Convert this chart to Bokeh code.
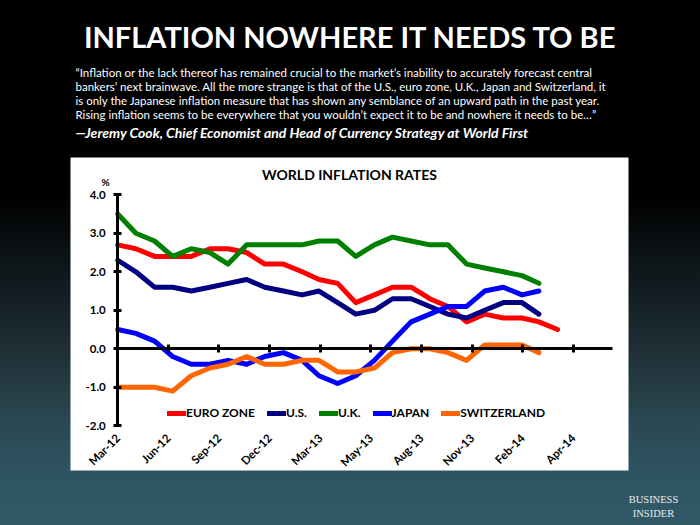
import numpy as np
import pandas as pd
from bokeh.plotting import figure
from bokeh.models import (LinearAxis, FixedTicker, Label, Legend, LegendItem,
                          Range1d, PrintfTickFormatter, BoxAnnotation)
from bokeh.embed import file_html
from bokeh.resources import INLINE

# ---------------- data ----------------
START = "2012-03-31"          # first observation (month end)
EURO_ZONE = [2.7, 2.6, 2.4, 2.4, 2.4, 2.6, 2.6, 2.5, 2.2, 2.2, 2.0, 1.8, 1.7,
             1.2, 1.4, 1.6, 1.6, 1.3, 1.1, 0.7, 0.9, 0.8, 0.8, 0.7, 0.5]
US = [2.3, 2.0, 1.6, 1.6, 1.5, 1.6, 1.7, 1.8, 1.6, 1.5, 1.4, 1.5, 1.2,
      0.9, 1.0, 1.3, 1.3, 1.1, 0.9, 0.8, 1.0, 1.2, 1.2, 0.9]
UK = [3.5, 3.0, 2.8, 2.4, 2.6, 2.5, 2.2, 2.7, 2.7, 2.7, 2.7, 2.8, 2.8,
      2.4, 2.7, 2.9, 2.8, 2.7, 2.7, 2.2, 2.1, 2.0, 1.9, 1.7]
JAPAN = [0.5, 0.4, 0.2, -0.2, -0.4, -0.4, -0.3, -0.4, -0.2, -0.1, -0.3, -0.7, -0.9,
         -0.7, -0.3, 0.2, 0.7, 0.9, 1.1, 1.1, 1.5, 1.6, 1.4, 1.5]
SWITZERLAND = [-1.0, -1.0, -1.0, -1.1, -0.7, -0.5, -0.4, -0.2, -0.4, -0.4, -0.3, -0.3, -0.6,
               -0.6, -0.5, -0.1, 0.0, 0.0, -0.1, -0.3, 0.1, 0.1, 0.1, -0.1]

SERIES_NAMES = ["EURO ZONE", "U.S.", "U.K.", "JAPAN", "SWITZERLAND"]
SERIES_VALUES = [EURO_ZONE, US, UK, JAPAN, SWITZERLAND]
SERIES_COLORS = ["#ff0000", "#000080", "#008000", "#0000ff", "#ff6600"]

X_TICK_LABELS = ["Mar-12", "Jun-12", "Sep-12", "Dec-12", "Mar-13",
                 "May-13", "Aug-13", "Nov-13", "Feb-14", "Apr-14"]
X_TICK_STEP_DAYS = 84
Y_TICKS = [-2, -1, 0, 1, 2, 3, 4]

TITLE = "INFLATION NOWHERE IT NEEDS TO BE"
QUOTE_LINES = [
    "\u201cInflation or the lack thereof has remained crucial to the market\u2019s inability to accurately forecast central",
    "bankers\u2019 next brainwave. All the more strange is that of the U.S., euro zone, U.K., Japan and Switzerland, it",
    "is only the Japanese inflation measure that has shown any semblance of an upward path in the past year.",
    "Rising inflation seems to be everywhere that you wouldn\u2019t expect it to be and nowhere it needs to be\u2026\u201d",
]
ATTRIBUTION = "\u2014Jeremy Cook, Chief Economist and Head of Currency Strategy at World First"
CHART_TITLE = "WORLD INFLATION RATES"

# days since first observation
start = pd.Timestamp(START)
n_max = max(len(v) for v in SERIES_VALUES)
dates = pd.date_range(START, periods=n_max, freq=pd.offsets.MonthEnd())
days = np.array((dates - start).days, dtype=float)
tick_days = [i * X_TICK_STEP_DAYS for i in range(len(X_TICK_LABELS))]
axis_end = float((pd.Timestamp("2014-06-30") - start).days)

FONT = "Lato"
W, H = 700, 525
BG = ("linear-gradient(to bottom, #000000 0%, #000000 37%, #0b1215 48%, "
      "#152126 58%, #22353c 70%, #2b4a55 82%, #2f5664 92%, #305867 100%)")

p = figure(width=W, height=H, output_backend="svg", toolbar_location=None,
           x_axis_location=None, y_axis_location=None,
           x_range=Range1d(-194.7, 967.3), y_range=Range1d(-4.590, 9.047),
           min_border=0, min_border_left=0, min_border_right=0,
           min_border_top=0, min_border_bottom=0,
           background_fill_color=None, border_fill_color=None,
           outline_line_color=None, styles={"background": BG})
p.xgrid.visible = False
p.ygrid.visible = False

# white chart panel (screen units relative to page bottom-left)
p.add_layout(BoxAnnotation(left=70, right=628, top=H - 157, bottom=H - 470,
                           left_units="screen", right_units="screen",
                           top_units="screen", bottom_units="screen",
                           fill_color="white", fill_alpha=1.0, line_color=None,
                           level="underlay"))

# y axis at the first date
yaxis = LinearAxis(fixed_location=0, ticker=FixedTicker(ticks=Y_TICKS),
                   formatter=PrintfTickFormatter(format="%.1f"), bounds=(-2, 4),
                   axis_line_width=3, axis_line_color="black",
                   major_tick_line_width=3, major_tick_in=4, major_tick_out=4,
                   minor_tick_line_color=None,
                   major_label_text_font=FONT, major_label_text_font_style="bold",
                   major_label_text_font_size="11.5px", major_label_text_color="black",
                   major_label_standoff=8)
p.add_layout(yaxis, "left")

# x axis line at zero with ticks; labels at the low position
xaxis = LinearAxis(fixed_location=0, ticker=FixedTicker(ticks=tick_days),
                   major_label_overrides=dict(zip(tick_days, X_TICK_LABELS)),
                   bounds=(0, axis_end), axis_line_width=3, axis_line_color="black",
                   major_tick_line_width=3, major_tick_in=4, major_tick_out=4,
                   minor_tick_line_color=None,
                   major_label_orientation=np.pi / 4,
                   major_label_text_font=FONT, major_label_text_font_style="bold",
                   major_label_text_font_size="11.5px", major_label_text_color="black",
                   major_label_standoff=83)
p.add_layout(xaxis, "below")

items = []
for name, vals, col in zip(SERIES_NAMES, SERIES_VALUES, SERIES_COLORS):
    r = p.line(days[:len(vals)], vals, line_color=col, line_width=5,
               line_join="round", line_cap="round")
    items.append(LegendItem(label=name, renderers=[r]))

legend = Legend(items=items, orientation="horizontal", location=(167, H - 420),
                background_fill_alpha=0, border_line_color=None,
                glyph_width=19, glyph_height=12, label_standoff=0, spacing=12,
                padding=0, margin=0, label_text_font=FONT,
                label_text_font_style="bold", label_text_font_size="12px",
                label_text_color="black")
p.add_layout(legend)

# ---------------- texts (page pixels -> screen units from bottom-left) ----------------
def add_text(txt, x, y, size, color="white", style="normal", align="left",
             font=FONT, baseline="middle"):
    p.add_layout(Label(x=x, y=H - y, x_units="screen", y_units="screen",
                       text=txt, text_font=font, text_font_size=size,
                       text_font_style=style, text_color=color,
                       text_align=align, text_baseline=baseline))

add_text(TITLE, 350, 36, "29px", style="bold", align="center")
for i, line in enumerate(QUOTE_LINES):
    add_text(line, 75, 72 + i * 13.9, "11.5px")
add_text(ATTRIBUTION, 75, 132, "14px", style="bold italic")
add_text(CHART_TITLE, 349, 174, "14px", color="black", style="bold", align="center")
add_text("%", 105, 181, "10px", color="black", style="bold", align="center")
add_text("BUSINESS", 653, 499, "10.5px", color="#e6ebec", align="center",
         font="Liberation Serif")
add_text("INSIDER", 653, 513, "10.5px", color="#e6ebec", align="center",
         font="Liberation Serif")

open("out.html", "w").write(file_html(p, INLINE))
